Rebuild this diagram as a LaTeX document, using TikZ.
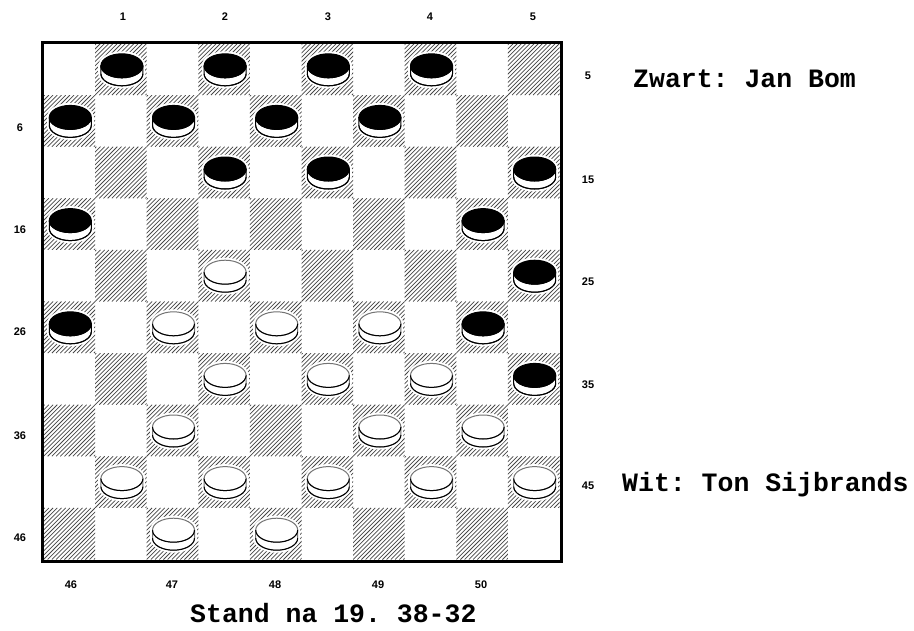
\documentclass[tikz,border=0pt]{standalone}
\usepackage{fontspec}
\newfontfamily\monofam{Liberation Mono}
\newfontfamily\labfam{Liberation Sans}
\tikzset{
  hatch/.style={draw=black!72,line width=0.75pt},
  boardframe/.style={draw=black,line width=3pt},
  numlab/.style={inner sep=0pt,font=\labfam\bfseries\fontsize{11}{13}\selectfont},
  bigtext/.style={inner sep=0pt,anchor=base west,font=\monofam\bfseries\fontsize{26.5}{30}\selectfont\frenchspacing},
}
\def\sq{51.6}
\def\ox{43.5}
\def\oy{43.5}
\newcommand\drawpiece[4]{%
  \pgfmathsetmacro\pcx{\ox+(#1-0.5)*\sq+1}%
  \pgfmathsetmacro\pcy{\oy+(#2-0.5)*\sq}%
  \pgfmathsetmacro\pta{\pcy-3.5}%
  \pgfmathsetmacro\ptb{\pcy+4.5}%
  \fill[white] (\pcx,\pta) ellipse [x radius=23.5, y radius=14.5];
  \fill[white] (\pcx,\ptb) ellipse [x radius=23.5, y radius=14.5];
  \fill[white] ({\pcx-23.5},\pta) rectangle ({\pcx+23.5},\ptb);
  \filldraw[fill=white,draw=#4,line width=1pt] ({\pcx-21},\pta) -- ({\pcx-21},\ptb)
     arc[start angle=180,end angle=0,x radius=21,y radius=12] -- ({\pcx+21},\pta) -- cycle;
  \draw[black,line width=1pt] ({\pcx-21},\ptb) arc[start angle=180,end angle=0,x radius=21,y radius=12];
  \filldraw[fill=#3,draw=#4,line width=1pt] (\pcx,\pta) ellipse [x radius=21, y radius=12];
  \draw[black,line width=1pt] ({\pcx-21},\pta) arc[start angle=180,end angle=0,x radius=21,y radius=12];
}
\begin{document}
\begin{tikzpicture}[x=1pt,y=-1pt]
\useasboundingbox (0,0) rectangle (914,630);
\fill[white] (0,0) rectangle (914,630);
% hatched squares
\foreach \r in {1,...,10}{
  \foreach \c in {1,...,10}{
    \pgfmathparse{int(mod(\r+\c,2))}
    \ifnum\pgfmathresult=1
      \pgfmathsetmacro\xa{\ox+(\c-1)*\sq}
      \pgfmathsetmacro\ya{\oy+(\r-1)*\sq}
      \begin{scope}
        \clip (\xa,\ya) rectangle ++(\sq,\sq);
        \foreach \k in {-13,...,13}{
          \draw[hatch] ({\xa+\k*4.2},{\ya+\sq}) -- ++(\sq,-\sq);
        }
      \end{scope}
    \fi
  }
}
% frame
\draw[boardframe] (42,42) rectangle (561,561.5);
% black pieces
\foreach \c/\r in {2/1,4/1,6/1,8/1,1/2,3/2,5/2,7/2,4/3,6/3,10/3,1/4,9/4,10/5,1/6,9/6,10/7}{
  \drawpiece{\c}{\r}{black}{black}
}
% white pieces
\foreach \c/\r in {4/5,3/6,5/6,7/6,4/7,6/7,8/7,3/8,7/8,9/8,2/9,4/9,6/9,8/9,10/9,3/10,5/10}{
  \drawpiece{\c}{\r}{white}{black!55}
}
% top labels
\node[numlab] (t1) at (123,17) {1};
\node[numlab] (t2) at (225,17) {2};
\node[numlab] (t3) at (328,17) {3};
\node[numlab] (t4) at (430,17) {4};
\node[numlab] (t5) at (533,17) {5};
% left labels
\node[numlab] (l6) at (20,128) {6};
\node[numlab] (l16) at (20,230) {16};
\node[numlab] (l26) at (20,332) {26};
\node[numlab] (l36) at (20,436) {36};
\node[numlab] (l46) at (20,538) {46};
% right labels
\node[numlab] (r5) at (588,76) {5};
\node[numlab] (r15) at (588,180) {15};
\node[numlab] (r25) at (588,282) {25};
\node[numlab] (r35) at (588,385) {35};
\node[numlab] (r45) at (588,486) {45};
% bottom labels
\node[numlab] (b46) at (71,585) {46};
\node[numlab] (b47) at (172,585) {47};
\node[numlab] (b48) at (275,585) {48};
\node[numlab] (b49) at (378,585) {49};
\node[numlab] (b50) at (481,585) {50};
% texts
\node[bigtext] (zwart) at (633,87) {Zwart: Jan Bom};
\node[bigtext] (wit) at (622,491) {Wit: Ton Sijbrands};
\node[bigtext] (stand) at (190,622) {Stand na 19. 38-32};
\end{tikzpicture}
\end{document}
